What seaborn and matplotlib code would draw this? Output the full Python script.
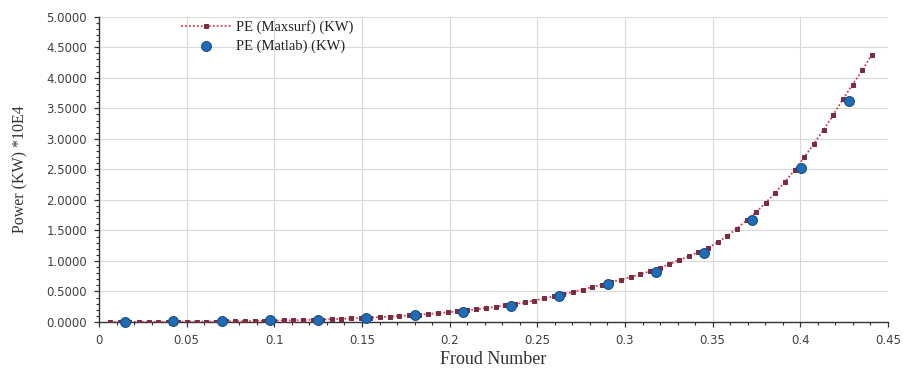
import matplotlib
matplotlib.use("Agg")
import matplotlib.pyplot as plt
import seaborn as sns
import pandas as pd
from matplotlib.ticker import MultipleLocator, FuncFormatter

# ---- data ----
froude_maxsurf = [
    0.0063, 0.0118, 0.0173, 0.0228, 0.0283, 0.0338, 0.0393, 0.0448, 0.0503, 0.0558,
    0.0613, 0.0668, 0.0723, 0.0778, 0.0833, 0.0888, 0.0943, 0.0998, 0.1053, 0.1108,
    0.1163, 0.1218, 0.1273, 0.1328, 0.1383, 0.1438, 0.1493, 0.1548, 0.1603, 0.1658,
    0.1713, 0.1768, 0.1823, 0.1878, 0.1933, 0.1988, 0.2043, 0.2098, 0.2153, 0.2208,
    0.2263, 0.2318, 0.2373, 0.2428, 0.2483, 0.2538, 0.2593, 0.2648, 0.2703, 0.2758,
    0.2813, 0.2868, 0.2923, 0.2978, 0.3033, 0.3088, 0.3143, 0.3198, 0.3253, 0.3308,
    0.3363, 0.3418, 0.3473, 0.3528, 0.3583, 0.3638, 0.3693, 0.3748, 0.3803, 0.3858,
    0.3913, 0.3968, 0.4023, 0.4078, 0.4133, 0.4188, 0.4243, 0.4298, 0.4353, 0.4408,
]
pe_maxsurf = [
    0.000, 0.000, 0.001, 0.001, 0.002, 0.002, 0.003, 0.004, 0.005, 0.006,
    0.007, 0.008, 0.010, 0.012, 0.014, 0.016, 0.019, 0.022, 0.025, 0.028,
    0.032, 0.036, 0.041, 0.046, 0.052, 0.058, 0.065, 0.072, 0.080, 0.089,
    0.098, 0.108, 0.119, 0.131, 0.144, 0.158, 0.173, 0.189, 0.206, 0.228,
    0.250, 0.272, 0.295, 0.320, 0.352, 0.386, 0.421, 0.456, 0.492, 0.532,
    0.573, 0.612, 0.652, 0.695, 0.738, 0.782, 0.832, 0.887, 0.948, 1.012,
    1.075, 1.140, 1.215, 1.305, 1.410, 1.530, 1.665, 1.800, 1.955, 2.120,
    2.300, 2.490, 2.700, 2.920, 3.150, 3.390, 3.650, 3.890, 4.120, 4.380,
]
froude_matlab = [0.0148, 0.0423, 0.0699, 0.0974, 0.1249, 0.1525, 0.1800, 0.2075,
                 0.2350, 0.2626, 0.2901, 0.3176, 0.3452, 0.3727, 0.4002, 0.4278]
pe_matlab = [0.002, 0.010, 0.015, 0.025, 0.040, 0.063, 0.110, 0.169,
             0.262, 0.426, 0.623, 0.820, 1.136, 1.667, 2.520, 3.620]

label_maxsurf = "PE (Maxsurf) (KW)"
label_matlab = "PE (Matlab) (KW)"
x_label = "Froud Number"
y_label = "Power (KW) *10E4"

df_max = pd.DataFrame({"Froude": froude_maxsurf, "PE": pe_maxsurf})
df_mat = pd.DataFrame({"Froude": froude_matlab, "PE": pe_matlab})

sns.set_theme(style="white")
plt.rcParams["font.family"] = ["DejaVu Sans"]

fig = plt.figure(figsize=(9.04, 3.72), dpi=100)
ax = fig.add_axes([0.1095, 0.1344, 0.8728, 0.8206])

sns.lineplot(data=df_max, x="Froude", y="PE", ax=ax, color="#d2404f",
             linestyle=(0, (1, 1.2)), linewidth=1.3, marker="s", markersize=3.0,
             markerfacecolor="#7a2c44", markeredgecolor="#7a2c44",
             label=label_maxsurf, zorder=3)
sns.scatterplot(data=df_mat, x="Froude", y="PE", ax=ax, color="#1f6db5",
                edgecolor="#174f86", linewidth=0.8, s=50, label=label_matlab,
                zorder=4, clip_on=False)

ax.set_xlim(0, 0.45)
ax.set_ylim(0, 5)
ax.xaxis.set_major_locator(MultipleLocator(0.05))
ax.xaxis.set_minor_locator(MultipleLocator(0.01))
ax.yaxis.set_major_locator(MultipleLocator(0.5))
ax.yaxis.set_minor_locator(MultipleLocator(0.1))
ax.xaxis.set_major_formatter(FuncFormatter(lambda v, p: f"{v:.2f}".rstrip("0").rstrip(".") if v != 0 else "0"))
ax.yaxis.set_major_formatter(FuncFormatter(lambda v, p: f"{v:.4f}"))

ax.grid(True, which="major", color="#d9d9d9", linewidth=0.8)
ax.set_axisbelow(True)
for s in ["top", "right"]:
    ax.spines[s].set_visible(False)
for s in ["bottom", "left"]:
    ax.spines[s].set_color("#333333")
    ax.spines[s].set_linewidth(1.0)

ax.tick_params(axis="both", which="both", bottom=True, left=True, top=False, right=False)
ax.tick_params(axis="both", which="major", direction="out", length=3.5, width=0.9,
               color="#333333", labelsize=8.5, labelcolor="#404040")
ax.tick_params(axis="both", which="minor", direction="out", length=2.5, width=0.8,
               color="#333333")
ax.tick_params(axis="x", which="major", pad=5)
ax.tick_params(axis="y", which="major", pad=5)

serif = ["Liberation Serif", "DejaVu Serif"]
ax.set_xlabel(x_label, fontsize=13, family=serif, color="#333333")
ax.set_ylabel(y_label, fontsize=11.5, family=serif, color="#333333")
ax.xaxis.set_label_coords(0.5, -0.095)
ax.yaxis.set_label_coords(-0.09, 0.5)

leg = ax.legend(loc="upper left", bbox_to_anchor=(0.093, 1.018), frameon=False,
                prop={"family": serif, "size": 10.5}, handlelength=3.4,
                handletextpad=0.35, labelspacing=0.35, borderaxespad=0.2)
for t in leg.get_texts():
    t.set_color("#222222")

fig.savefig("out.png", dpi=100)
